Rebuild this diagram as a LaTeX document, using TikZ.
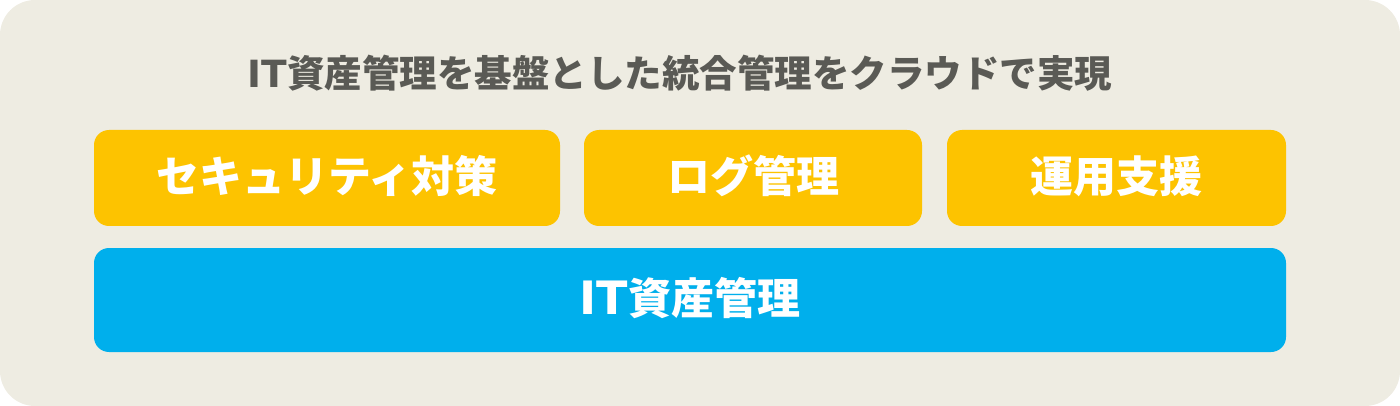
\documentclass[tikz,border=0pt]{standalone}
\usepackage{fontspec}
\setmainfont{Noto Sans CJK JP}
\newfontfamily\lat{DejaVu Sans}
\definecolor{bgc}{HTML}{EEECE2}
\definecolor{ylw}{HTML}{FDC300}
\definecolor{blu}{HTML}{00AFEC}
\definecolor{ttl}{HTML}{5A5A55}
\begin{document}
\begin{tikzpicture}[x=1pt,y=-1pt,
  box/.style={rounded corners=15pt,inner sep=0pt,text=white,font=\fontsize{43}{47}\selectfont\bfseries}]
\useasboundingbox (0,0) rectangle (1400,406);
\fill[bgc,rounded corners=35pt] (0,0) rectangle (1400,406);
\node[text=ttl,font=\fontsize{37.5}{40}\selectfont\bfseries] (title) at (680,73) {{\lat IT}資産管理を基盤とした統合管理をクラウドで実現};
\path[box,fill=ylw] (94,130) rectangle (560,226) node[midway,yshift=2pt] (sec) {セキュリティ対策};
\path[box,fill=ylw] (584,130) rectangle (922,226) node[midway,yshift=2pt] (log) {ログ管理};
\path[box,fill=ylw] (947,130) rectangle (1286,226) node[midway,yshift=2pt] (ops) {運用支援};
\path[box,fill=blu] (94,248) rectangle (1286,352) node[midway,yshift=2pt] (itam) {{\lat\fontsize{46}{50}\selectfont IT}資産管理};
\end{tikzpicture}
\end{document}
